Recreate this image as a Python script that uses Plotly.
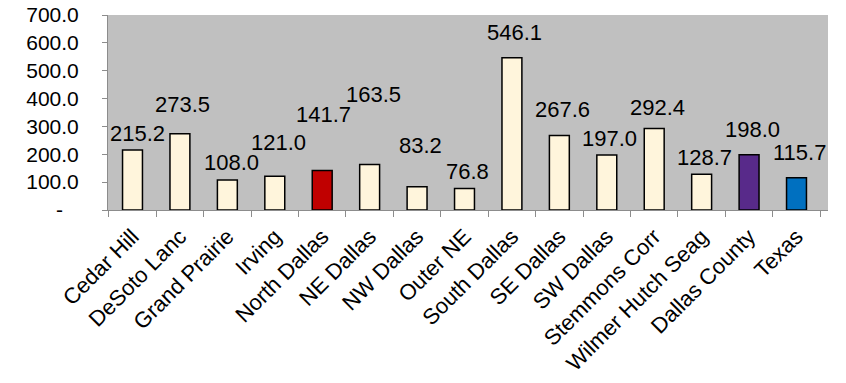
import plotly.graph_objects as go

categories = ["Cedar Hill", "DeSoto Lanc", "Grand Prairie", "Irving", "North Dallas",
              "NE Dallas", "NW Dallas", "Outer NE", "South Dallas", "SE Dallas",
              "SW Dallas", "Stemmons Corr", "Wilmer Hutch Seag", "Dallas County", "Texas"]
values = [215.2, 273.5, 108.0, 121.0, 141.7, 163.5, 83.2, 76.8, 546.1, 267.6,
          197.0, 292.4, 128.7, 198.0, 115.7]
tick_vals = [0, 100, 200, 300, 400, 500, 600, 700]
tick_text = ["-\u00a0\u00a0\u2009", "100.0", "200.0", "300.0", "400.0", "500.0", "600.0", "700.0"]

# styling
FONT = "Liberation Sans, Arial"
cream = "#FFF5DC"
bar_colors = [cream] * 15
bar_colors[4] = "#C00000"
bar_colors[13] = "#582A8A"
bar_colors[14] = "#0070C0"
label_lift = [17, 29, 17, 34, 56, 70, 41, 17, 25, 26, 17, 21, 17, 25, 25]
label_dx = [5, 3, 4, 4, 1, 4, 3, 3, 3, 3, 3, 3, 3, 3, 3]

fig = go.Figure()
fig.add_trace(go.Bar(
    x=categories, y=values,
    marker=dict(color=bar_colors, line=dict(color="black", width=1.5)),
    width=0.42,
))

for c, v, lift, dx in zip(categories, values, label_lift, label_dx):
    fig.add_annotation(x=c, y=v, text=f"{v:.1f}", showarrow=False,
                       yshift=lift, xshift=dx, yanchor="middle",
                       font=dict(family=FONT, size=22, color="black"))

fig.update_layout(
    width=846, height=383,
    margin=dict(l=108, r=18, t=15, b=173),
    plot_bgcolor="#C0C0C0",
    paper_bgcolor="white",
    showlegend=False,
    font=dict(family=FONT, size=21, color="black"),
)
fig.update_xaxes(
    tickangle=-45, showline=True, linecolor="#8C8C8C", linewidth=1,
    ticks="outside", tickson="boundaries", ticklen=6, tickcolor="#8C8C8C",
    showgrid=False, tickfont=dict(family=FONT, size=22), automargin=False,
    ticklabelstandoff=4,
)
fig.update_yaxes(
    range=[0, 700], tickvals=tick_vals, ticktext=tick_text,
    showline=True, linecolor="#8C8C8C", linewidth=1,
    ticks="outside", ticklen=5, tickcolor="#8C8C8C",
    showgrid=False, zeroline=False, tickfont=dict(family=FONT, size=21),
    ticklabelstandoff=19, automargin=False, ticklabeloverflow="allow",
)

# remove the default 8px page margin so the figure fills the window exactly
fig.write_html("out.html", config={"displayModeBar": False},
               post_script="document.body.style.margin='0';")
